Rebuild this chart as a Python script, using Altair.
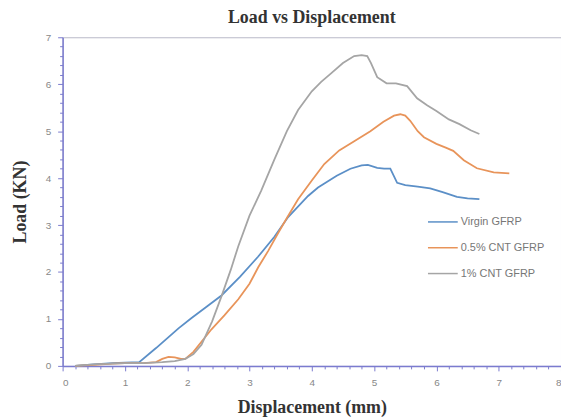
import altair as alt
import pandas as pd

# ---- data ----
series_names = ["Virgin GFRP", "0.5% CNT GFRP", "1% CNT GFRP"]
series_colors = ["#5b8fc7", "#e8945a", "#a5a5a5"]

virgin_x = [0.2, 0.5, 0.8, 1.0, 1.23, 1.5, 1.86, 2.07, 2.3, 2.55, 2.85, 3.14, 3.4, 3.62, 3.94,
            4.1, 4.4, 4.62, 4.8, 4.9, 5.05, 5.16, 5.26, 5.37, 5.5, 5.7, 5.9, 6.1, 6.33, 6.5, 6.69]
virgin_y = [0.0, 0.03, 0.06, 0.07, 0.08, 0.38, 0.8, 1.02, 1.25, 1.5, 1.9, 2.33, 2.75, 3.17, 3.62,
            3.8, 4.05, 4.2, 4.27, 4.28, 4.22, 4.2, 4.2, 3.9, 3.85, 3.82, 3.78, 3.7, 3.6, 3.57, 3.55]

cnt05_x = [0.2, 0.5, 0.8, 1.0, 1.3, 1.5, 1.6, 1.7, 1.8, 1.9, 1.97, 2.1, 2.39, 2.6, 2.82, 3.0, 3.14,
           3.3, 3.46, 3.6, 3.78, 4.0, 4.2, 4.44, 4.7, 4.94, 5.15, 5.32, 5.42, 5.5, 5.58, 5.7, 5.8,
           6.0, 6.15, 6.27, 6.44, 6.65, 6.92, 7.17]
cnt05_y = [0.0, 0.02, 0.05, 0.06, 0.06, 0.08, 0.15, 0.19, 0.18, 0.15, 0.15, 0.3, 0.78, 1.08, 1.42,
           1.75, 2.1, 2.45, 2.83, 3.15, 3.55, 3.95, 4.3, 4.59, 4.8, 5.0, 5.2, 5.33, 5.36, 5.33, 5.22,
           5.0, 4.87, 4.73, 4.65, 4.58, 4.38, 4.21, 4.12, 4.1]

cnt1_x = [0.2, 0.5, 0.8, 1.0, 1.3, 1.6, 1.8, 1.97, 2.1, 2.23, 2.4, 2.55, 2.7, 2.82, 3.0, 3.19, 3.4,
          3.6, 3.78, 4.0, 4.15, 4.3, 4.5, 4.68, 4.8, 4.89, 4.95, 5.05, 5.2, 5.35, 5.53, 5.69, 5.85,
          6.0, 6.2, 6.37, 6.55, 6.69]
cnt1_y = [0.0, 0.03, 0.05, 0.06, 0.06, 0.08, 0.1, 0.15, 0.25, 0.45, 0.95, 1.48, 2.05, 2.55, 3.2,
          3.74, 4.4, 5.0, 5.45, 5.85, 6.05, 6.22, 6.45, 6.6, 6.62, 6.6, 6.45, 6.15, 6.02, 6.02, 5.96,
          5.7, 5.55, 5.43, 5.25, 5.15, 5.02, 4.94]

x_ticks = [round(i * 0.2, 1) for i in range(41)]
y_ticks = [round(i * 0.2, 1) for i in range(36)]

rows = []
for name, xs, ys in zip(series_names, [virgin_x, cnt05_x, cnt1_x], [virgin_y, cnt05_y, cnt1_y]):
    for i, (xv, yv) in enumerate(zip(xs, ys)):
        rows.append({"series": name, "x": xv, "y": yv, "order": i})
df = pd.DataFrame(rows)

axis_color = "#7b7bcf"
serif = "Liberation Serif"
sans = "Liberation Sans"
major_label = "datum.value % 1 === 0 ? format(datum.value, 'd') : ''"
major_size = {"condition": {"test": "datum.value % 1 === 0", "value": 5}, "value": 3}

x_axis = alt.Axis(
    values=x_ticks, labelExpr=major_label, tickSize=major_size,
    grid=False, domainColor=axis_color, tickColor=axis_color, domainWidth=1.5,
    labelColor="#888888", labelFont=sans, labelFontSize=10, labelPadding=7,
    title="Displacement (mm)", titleFont=serif, titleFontSize=18, titleFontWeight="bold",
    titleColor="#333333", titlePadding=11,
)
y_axis = alt.Axis(
    values=y_ticks, labelExpr=major_label, tickSize=major_size,
    grid=False, domainColor=axis_color, tickColor=axis_color, domainWidth=1.5,
    labelColor="#888888", labelFont=sans, labelFontSize=10, labelPadding=7,
    title="Load (KN)", titleFont=serif, titleFontSize=18, titleFontWeight="bold",
    titleColor="#333333", titlePadding=16,
)

chart = alt.Chart(df).mark_line(strokeWidth=1.8).encode(
    x=alt.X("x:Q", scale=alt.Scale(domain=[0, 8], nice=False), axis=x_axis),
    y=alt.Y("y:Q", scale=alt.Scale(domain=[0, 7], nice=False), axis=y_axis),
    color=alt.Color(
        "series:N",
        scale=alt.Scale(domain=series_names, range=series_colors),
        legend=alt.Legend(
            title=None, orient="none", legendX=367, legendY=170,
            symbolType="stroke", symbolSize=900, symbolStrokeWidth=1.5,
            labelFont=sans, labelFontSize=11, labelColor="#777777",
            labelOffset=2, rowPadding=5,
        ),
        sort=series_names,
    ),
    order="order:Q",
).properties(
    width=502,
    height=331,
    title=alt.TitleParams(
        "Load vs Displacement", font=serif, fontSize=18, fontWeight="bold",
        color="#333333", anchor="middle", offset=5,
    ),
    autosize=alt.AutoSizeParams(type="none"),
    padding={"left": 55, "top": 28, "right": 0, "bottom": 50},
).configure_view(
    stroke="#b8b8c8", strokeWidth=1
)

chart.save("out.html", embed_options={"renderer": "svg", "actions": False})
